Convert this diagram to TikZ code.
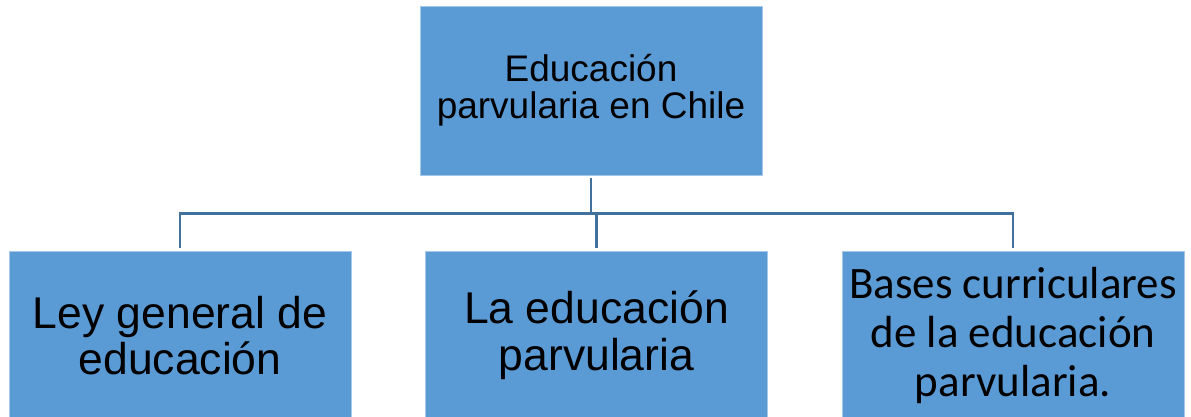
\documentclass[tikz,border=0pt]{standalone}
\usepackage{fontspec}
\setmainfont{Liberation Sans}
\newfontfamily\calibrifont{Carlito}
\usepackage{tikz}
\usetikzlibrary{arrows}
\definecolor{boxblue}{HTML}{5B9BD5}
\definecolor{lineblue}{HTML}{41719C}

\begin{document}
\begin{tikzpicture}[x=1pt, y=-1pt, node distance=416.5pt]
		\tikzstyle{block} = [draw=boxblue!55!white, line width=0.8pt, fill=boxblue, minimum width=342pt, minimum height=169pt, inner sep=0pt, align=center]
		\tikzstyle{bigtext} = [font=\fontsize{44.5}{46.7}\selectfont]
		\tikzstyle{link} = [draw=lineblue, line width=2.2pt, shorten <=3pt, shorten >=3pt]

		\useasboundingbox (0,0) rectangle (1191,417);

		\path
		node[block, font=\fontsize{37}{36.6}\selectfont] (edu) at (591,90.5) {Educación\\parvularia en Chile}
		node[block, bigtext] (ley) at (180,335.5) {Ley general de\\educación}
		node[block, bigtext, right of=ley] (par) {La educación\\parvularia}
		node[block, right of=par, font=\calibrifont\fontsize{45}{49}\selectfont] (bases) {Bases curriculares\\de la educación\\parvularia.}
		;

		\draw[link, shorten >=0pt] (edu.south) -- ++(0,38) coordinate (bar);
		\draw[link, shorten <=0pt] (bar) -| (ley.north);
		\draw[link, shorten <=0pt] (bar) -| (par.north);
		\draw[link, shorten <=0pt] (bar) -| (bases.north);

		\end{tikzpicture}
\end{document}
